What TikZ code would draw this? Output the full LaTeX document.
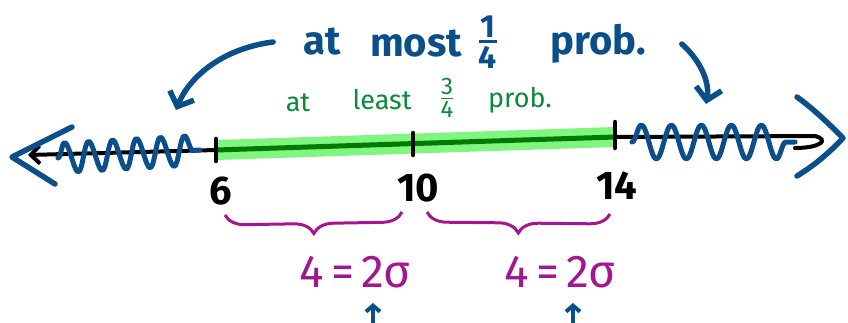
\documentclass[tikz,border=0pt]{standalone}
\usepackage{amsmath}
\usepackage{fontspec}
\setmainfont{Fira Sans}
\usetikzlibrary{decorations.pathmorphing,decorations.pathreplacing,arrows.meta}
\definecolor{inkblue}{HTML}{0B4F8A}
\definecolor{inkpurple}{HTML}{A3168E}
\definecolor{inkgreen}{HTML}{0A8A3A}
\definecolor{hilite}{HTML}{80F57F}
\definecolor{darkline}{HTML}{007A00}
\newcommand{\hfr}[3]{$\genfrac{}{}{#3}{}{\hbox{#1}}{\hbox{#2}}$}
\tikzset{
  blueink/.style={draw=inkblue, line width=5.5pt, line cap=round, line join=round},
  bluetext/.style={text=inkblue, font=\fontsize{40}{44}\selectfont\bfseries, inner sep=0pt},
  greentext/.style={text=inkgreen, font=\fontsize{27}{30}\selectfont, inner sep=0pt},
  numtext/.style={text=black, font=\fontsize{40}{44}\selectfont\bfseries, inner sep=0pt},
  purpletext/.style={text=inkpurple, font=\fontsize{46}{50}\selectfont, inner sep=0pt},
  tickmark/.style={draw=black, line width=4.5pt, line cap=round},
  bracestyle/.style={draw=inkpurple, line width=3pt, decorate, decoration={brace, amplitude=20pt, raise=0pt}},
  arrowink/.style={blueink, -{Straight Barb[length=12pt, width=26pt, line width=5.5pt]}}
}
\begin{document}
\begin{tikzpicture}[x=1pt, y=-1pt]
\useasboundingbox (0,0) rectangle (848,322);
% coordinates on the number line
\coordinate (lend) at (28,155);
\coordinate (p6) at (216,150);
\coordinate (p10) at (413,144);
\coordinate (p14) at (615,137);
\coordinate (rend) at (815,136);
% green highlight
\draw[hilite, line width=20pt] (p6) -- (p14);
% black number line
\draw[black, line width=4pt, line cap=round, -{Straight Barb[length=9pt,width=18pt,line width=4pt]}] (p6) -- (lend);
\draw[black, line width=4pt, line cap=round] (p14) -- (rend) .. controls (830,140) and (820,148) .. (795,148);
\draw[darkline, line width=5pt] (p6) -- (p14);
% ticks
\draw[tickmark] ([yshift=-11pt]p6) -- ([yshift=11pt]p6);
\draw[tickmark] ([yshift=-11pt]p10) -- ([yshift=11pt]p10);
\draw[tickmark] ([yshift=-11pt]p14) -- ([yshift=15pt]p14);
% squiggles
\coordinate (sqla) at (58,158);
\coordinate (sqlb) at (200,150);
\draw[blueink, line width=5pt, decorate, decoration={snake, amplitude=15pt, segment length=24pt}] (sqla) -- (sqlb);
\coordinate (sqra) at (632,142);
\coordinate (sqrb) at (795,142);
\draw[blueink, line width=5pt, decorate, decoration={snake, amplitude=17pt, segment length=30pt}] (sqra) -- (sqrb);
% chevrons
\coordinate (cl1) at (72,127);
\coordinate (cltip) at (12,157);
\coordinate (cl2) at (55,184);
\draw[blueink] (cl1) -- (cltip) -- (cl2);
\coordinate (cr1) at (797,97);
\coordinate (crtip) at (843,138);
\coordinate (cr2) at (797,176);
\draw[blueink] (cr1) .. controls (815,110) and (830,125) .. (crtip) .. controls (830,152) and (815,165) .. (cr2);
% top text
\node[bluetext] (at1) at (322,42) {at};
\node[bluetext] (most) at (416,44) {most};
\node[bluetext, font=\fontsize{32}{36}\selectfont\bfseries] (quarter) at (488,42) {\hfr{1}{4}{3pt}};
\node[bluetext] (prob1) at (598,44) {prob.};
% curved arrows
\coordinate (al) at (176,110);
\coordinate (ar) at (706,104);
\draw[arrowink] (at1.west) ++(-30,0) coordinate (als) .. controls (225,48) and (190,75) .. (al);
\draw[arrowink] (prob1.east) ++(36,0) coordinate (ars) .. controls (700,60) and (710,82) .. (ar);
% green text
\node[greentext] (at2) at (298,103) {at};
\node[greentext] (least) at (382,100) {least};
\node[greentext, font=\fontsize{24}{28}\selectfont] (threeq) at (447,98) {\hfr{3}{4}{1.8pt}};
\node[greentext] (prob2) at (520,100) {prob.};
% numbers
\node[numtext] (n6) at (221,191) {6};
\node[numtext] (n10) at (418,188) {10};
\node[numtext] (n14) at (617,186) {14};
% braces
\coordinate (b1a) at (225,215);
\coordinate (b1b) at (402,212);
\coordinate (b2a) at (427,212);
\coordinate (b2b) at (610,214);
\draw[bracestyle, decoration={mirror}] (b1a) -- (b1b);
\draw[bracestyle, decoration={mirror}] (b2a) -- (b2b);
% sigma labels
\node[purpletext] (s1) at (355,272) {4\,=\,2σ};
\node[purpletext] (s2) at (560,272) {4\,=\,2σ};
% small arrows
\coordinate (u1a) at (373,330);
\coordinate (u1b) at (373,303);
\coordinate (u2a) at (573,330);
\coordinate (u2b) at (573,303);
\draw[blueink, line width=4pt, -{Straight Barb[length=6pt,width=14pt,line width=4pt]}] (u1a) -- (u1b);
\draw[blueink, line width=4pt, -{Straight Barb[length=6pt,width=14pt,line width=4pt]}] (u2a) -- (u2b);
\end{tikzpicture}
\end{document}
